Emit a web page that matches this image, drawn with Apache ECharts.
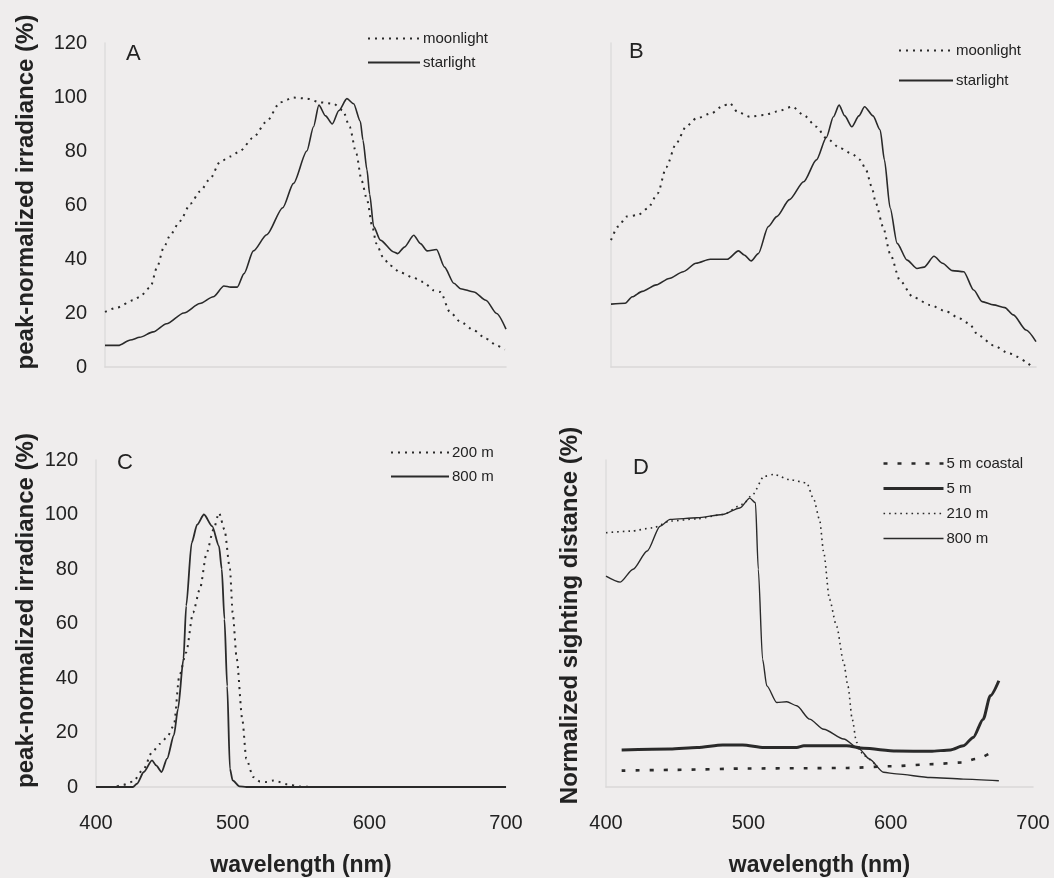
<!DOCTYPE html>
<html>
<head>
<meta charset="utf-8">
<script src="https://cdn.jsdelivr.net/npm/echarts@6/dist/echarts.min.js"></script>
<style>
  html, body { margin: 0; padding: 0; background: #efeded; }
  #chart { width: 1054px; height: 878px; }
</style>
</head>
<body>
<div id="chart"></div>
<script>
// values, [wavelength nm, %]
const aMoonlight = [[400,20.4],[409,22],[421,24.7],[426,26],[434,29.6],[439,37],[444,44.4],[449,49],[456,54],[464,60.5],[471,65],[479,70],[486,76],[494,78],[501,80],[511,85],[521,91],[531,98],[541,99.8],[551,99.4],[561,98],[571,97.5],[578,95],[583,89],[588,79],[592,69],[596,62],[600,52],[603,45.7],[608,40.7],[613,37.7],[621,35],[631,33],[638,31.5],[646,28.4],[651,27.8],[658,20.4],[666,16.7],[676,13.6],[685,10.5],[693,8],[699,6.4]];
const aStarlight = [[400,8],[410,8],[419,10],[426,11],[436,13],[446,16],[459,20],[471,23.5],[481,26],[489,30],[494,29.6],[499,29.6],[504,34.6],[511,43],[521,49],[533,59],[541,68],[551,80],[556,89],[560,97],[565,93],[570,90],[575,95],[581,99.4],[586,97.5],[591,91],[593,84],[596,73],[598,64],[601,52],[606,47],[616,42.6],[619,42],[624,44.4],[631,48.8],[636,45.7],[641,43],[648,43.5],[654,37],[661,31],[666,29],[676,27.8],[685,24.7],[693,19.8],[700,14]];

const bMoonlight = [[400,47],[405,52],[411,55.7],[419,56.3],[426,58.8],[433,64.3],[439,74],[446,82.8],[453,89],[460,92],[471,94],[479,96.7],[484,97.7],[489,94.6],[498,92.7],[508,93.3],[517,94.6],[528,96.4],[536,93.3],[545,89],[552,84.7],[562,81],[570,79],[576,76.7],[580,73],[584,66.8],[587,60.6],[592,52],[597,42],[604,32],[613,26],[625,23],[637,20.5],[646,18],[653,16],[659,11.9],[670,8],[681,5],[696,0.7]];
const bStarlight = [[400,23.3],[410,23.6],[415,26],[422,28],[432,30.4],[441,32.8],[451,35.3],[460,38.4],[470,39.9],[482,39.9],[490,43],[494,41.5],[499,39.3],[504,42],[511,52],[517,55.7],[526,62],[536,68.6],[545,76.7],[552,85],[557,92.7],[561,97],[565,93],[570,89],[575,93],[579,96.4],[585,93],[590,87.8],[593,76.7],[597,59],[602,45.8],[609,39.6],[616,36.5],[621,37],[628,41],[634,38.4],[641,35.7],[649,35.3],[656,28.5],[662,24.2],[670,23],[678,22],[684,19.3],[693,13.7],[700,9.4]];

const c200m = [[400,0],[413,0],[420,0.8],[427,2],[435,6.7],[441,12.8],[447,15.9],[452,18.3],[457,22.6],[461,40.8],[466,49.4],[471,64],[476,72.6],[481,86],[486,94.5],[490,100.6],[494,94.5],[498,80],[500,64],[503,47],[507,25],[510,10.4],[515,3.7],[520,2],[525,1.8],[530,2.4],[540,1],[549,0.2],[561,0],[700,0]];
const c800m = [[400,0],[427,0],[430,1.2],[435,5.5],[441,9.8],[444,7.9],[448,5.5],[452,10.4],[457,19],[460,28.7],[464,47],[466,66.5],[470,89.6],[474,96.3],[479,100],[485,95.7],[490,88.4],[492,80],[494,61.6],[496,37],[498,6.7],[500,2.4],[505,0.2],[510,0],[700,0]];

const dCoastal5m = [[411,6],[450,6.3],[500,6.8],[540,6.9],[570,7],[600,7.6],[630,8.4],[650,9],[660,10.3],[671,12.7]];
const d5m = [[411,13.6],[445,13.9],[464,14.5],[482,15.4],[496,15.4],[511,14.5],[534,14.5],[539,15.1],[569,15.1],[581,14.2],[604,13.2],[628,13.1],[642,13.6],[651,15.1],[658,18.2],[665,24.9],[670,33.5],[676,39]];
const d210m = [[400,93.3],[417,93.9],[433,95.1],[445,97.6],[464,98.4],[482,100],[496,103.7],[503,107.3],[511,114],[518,114.7],[529,112.8],[541,111.6],[546,105.5],[550,98.2],[553,86],[557,68.9],[562,59],[567,45.7],[570,37],[573,24.9],[576,16.4],[581,11.5],[590,7.8]];
const d800m = [[400,77.4],[410,75.2],[419,79.9],[429,86.6],[438,95.7],[445,98.2],[464,98.8],[482,100],[494,102.4],[501,106],[505,104.3],[507,79.9],[510,46.9],[513,37.1],[520,31],[527,31.3],[534,29.8],[543,24.9],[553,21.2],[567,17.6],[578,13.9],[585,10.3],[595,5.4],[604,4.8],[628,3.5],[651,2.9],[676,2.3]];

const ink = '#2a2a2a';
const txt = '#222';
const font = 'Liberation Sans, Arial, sans-serif';

function xAx(idx, showLabels) {
    return {
        gridIndex: idx, type: 'value', min: 400, max: 700, interval: 100,
        axisLine: { show: true, lineStyle: { color: '#dad8d8', width: 1.5 } },
        axisTick: { show: false },
        splitLine: { show: false },
        axisLabel: { show: showLabels, fontSize: 20, color: txt, fontFamily: font, margin: 26 },
        name: showLabels ? 'wavelength (nm)' : '',
        nameLocation: 'middle', nameGap: 67,
        nameTextStyle: { fontSize: 23, fontWeight: 'bold', color: txt, fontFamily: font }
    };
}

function yAx(idx, showLabels, name, gap, shift) {
    return {
        gridIndex: idx, type: 'value', min: 0, max: 120, interval: 20,
        axisLine: { show: true, lineStyle: { color: '#dedcdc', width: 1.5 } },
        axisTick: { show: false },
        splitLine: { show: false },
        axisLabel: { show: showLabels, fontSize: 20, color: txt, fontFamily: font, margin: 18 },
        name: name, nameLocation: 'middle', nameGap: gap,
        nameTextStyle: { fontSize: 24, fontWeight: 'bold', color: txt, fontFamily: font, padding: [0, 0, 0, shift] }
    };
}

function line(name, data, idx, width, type) {
    return {
        name: name, type: 'line', data: data,
        xAxisIndex: idx, yAxisIndex: idx,
        showSymbol: false, symbol: 'none',
        smooth: 0.25, smoothMonotone: 'x',
        lineStyle: { color: ink, width: width, type: type },
        itemStyle: { color: ink },
        emphasis: { disabled: true }
    };
}

function legendAt(left, top, width, gap, names) {
    return {
        data: names, left: left, top: top, orient: 'vertical',
        itemWidth: width, itemHeight: 14, itemGap: gap, padding: 0,
        itemStyle: { color: 'rgba(0,0,0,0)', borderWidth: 0, opacity: 0 },
        textStyle: { fontSize: 15, color: txt, fontFamily: font, padding: [0, 0, 0, -2] },
        selectedMode: false
    };
}

let myChart = echarts.init(document.getElementById('chart'));
let option = {
    backgroundColor: '#efeded',
    animation: false,
    title: [
        { text: 'A', left: 121, top: 38, textStyle: { fontSize: 22, fontWeight: 'normal', color: txt, fontFamily: font } },
        { text: 'B', left: 624, top: 36, textStyle: { fontSize: 22, fontWeight: 'normal', color: txt, fontFamily: font } },
        { text: 'C', left: 112, top: 447, textStyle: { fontSize: 22, fontWeight: 'normal', color: txt, fontFamily: font } },
        { text: 'D', left: 628, top: 452, textStyle: { fontSize: 22, fontWeight: 'normal', color: txt, fontFamily: font } }
    ],
    grid: [
        { left: 105, top: 43, width: 401, height: 324 },
        { left: 611, top: 43, width: 425, height: 324 },
        { left: 96, top: 460, width: 410, height: 328 },
        { left: 606, top: 460, width: 427, height: 328 }
    ],
    xAxis: [xAx(0, false), xAx(1, false), xAx(2, true), xAx(3, true)],
    yAxis: [
        yAx(0, true, 'peak-normalized irradiance (%)', 67, 26),
        yAx(1, false, '', 0, 0),
        yAx(2, true, 'peak-normalized irradiance (%)', 58, 26),
        yAx(3, false, 'Normalized sighting distance (%)', 24, 16)
    ],
    legend: [
        legendAt(367, 31, 52, 9, ['moonlight', 'starlight']),
        legendAt(898, 43, 54, 15, ['moonlight ', 'starlight ']),
        legendAt(390, 445, 58, 9, ['200 m', '800 m']),
        legendAt(882, 456, 60, 10, [
            { name: '5 m coastal', lineStyle: { width: 2.6 } },
            { name: '5 m', lineStyle: { width: 3 } },
            { name: '210 m', lineStyle: { width: 1.6 } },
            { name: '800 m ', lineStyle: { width: 1.4 } }
        ])
    ],
    series: [
        line('moonlight', aMoonlight, 0, 2, [2, 5]),
        line('starlight', aStarlight, 0, 1.6, 'solid'),
        line('moonlight ', bMoonlight, 1, 2, [2, 5]),
        line('starlight ', bStarlight, 1, 1.6, 'solid'),
        line('200 m', c200m, 2, 2, [2, 5]),
        line('800 m', c800m, 2, 1.8, 'solid'),
        line('5 m coastal', dCoastal5m, 3, 2.6, [4, 10]),
        line('5 m', d5m, 3, 3, 'solid'),
        line('210 m', d210m, 3, 1.6, [1.6, 4]),
        line('800 m ', d800m, 3, 1.4, 'solid')
    ]
};
myChart.setOption(option);
</script>
</body>
</html>
